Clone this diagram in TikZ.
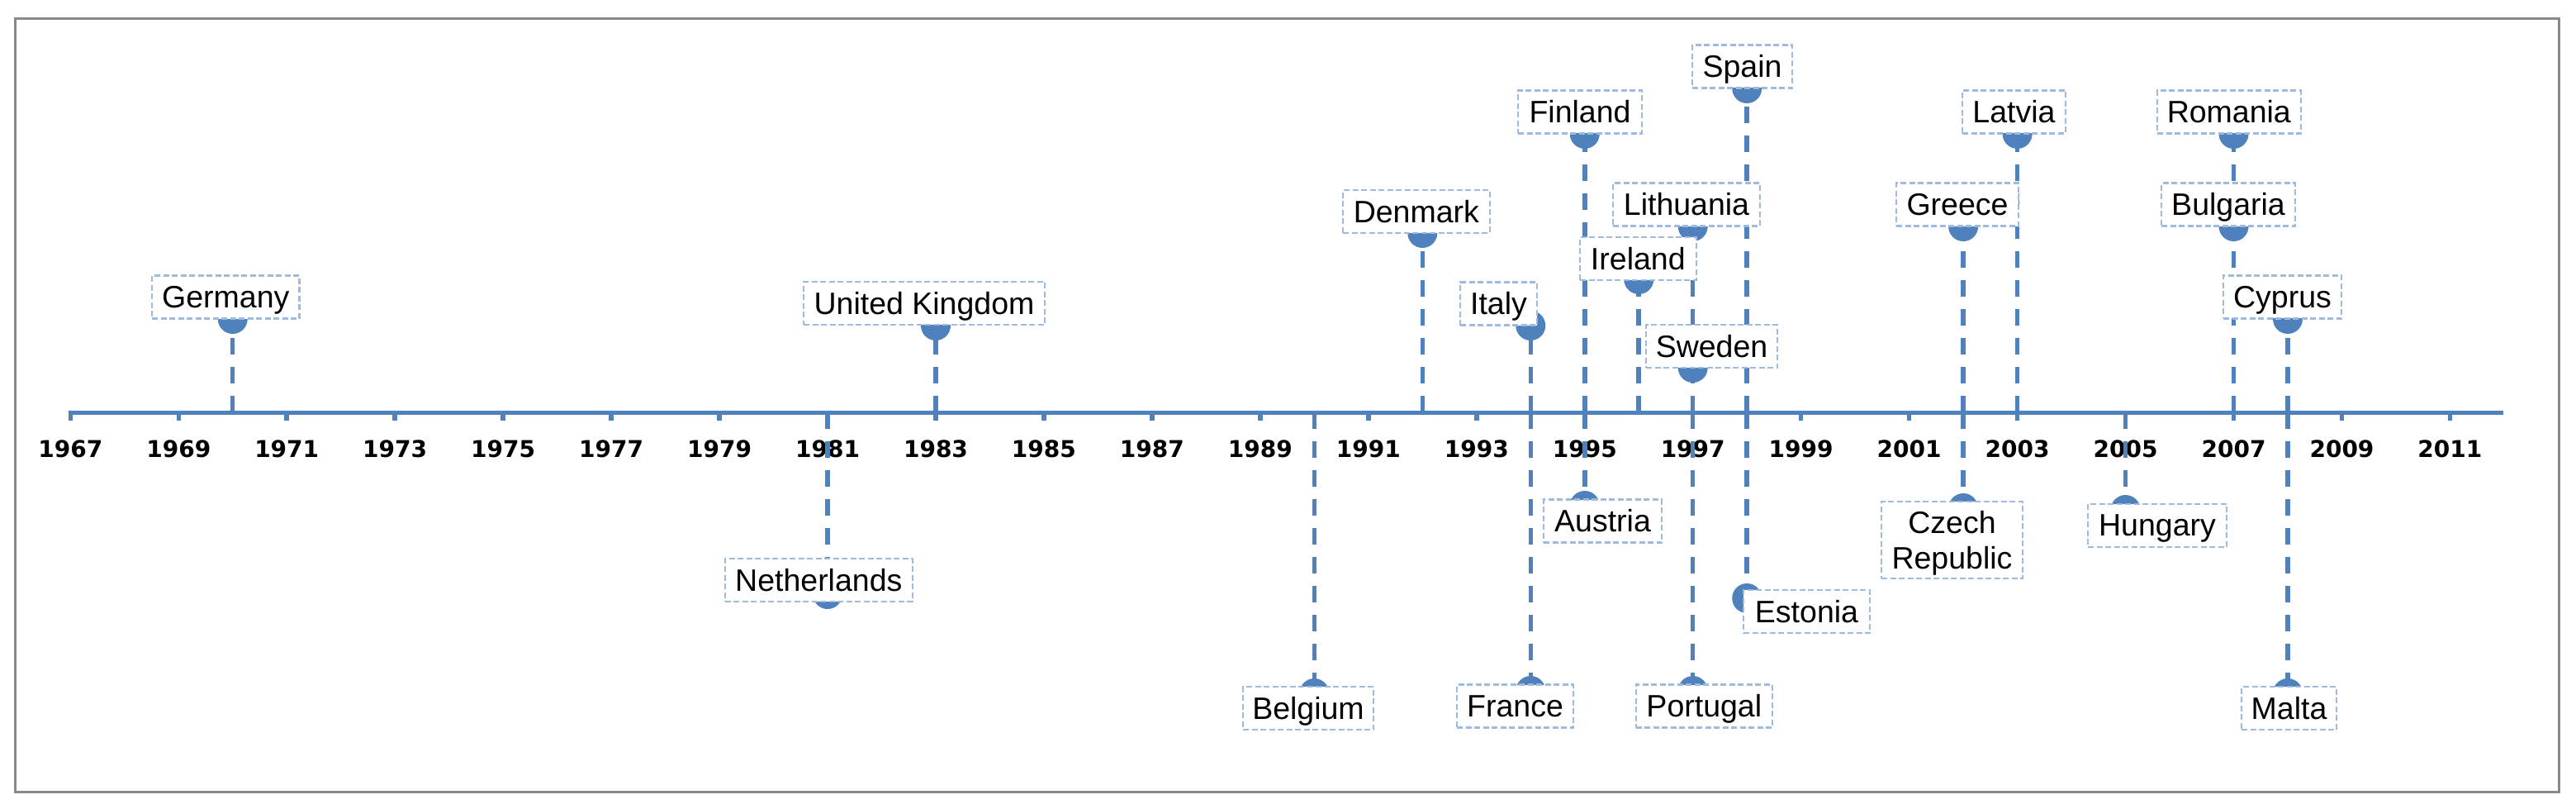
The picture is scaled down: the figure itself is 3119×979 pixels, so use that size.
\documentclass[tikz,border=0pt]{standalone}
\usepackage{fontspec}
\setmainfont{Liberation Sans}
\newfontfamily\yearfont{DejaVu Sans Bold}
\usetikzlibrary{backgrounds}
\pgfdeclarelayer{back}
\pgfsetlayers{back,main}
\definecolor{lineblue}{RGB}{79,129,189}
\definecolor{boxblue}{RGB}{158,186,220}
\definecolor{framegray}{RGB}{137,137,137}
\newcommand\yx[1]{85.3+(#1-1967)*65.48}
% #1 name, #2 year, #3 marker y, #4 box cx, #5 box cy, #6 box width, #7 style, #8 text
\newcommand\ctry[8]{%
  \node[#7, minimum width=#6pt] (#1) at (#4,#5) {#8};
  \begin{pgfonlayer}{back}
    \coordinate (#1-a) at ({\yx{#2}},499);
    \coordinate (#1-m) at ({\yx{#2}},#3);
    \draw[leader] (#1-a) -- (#1-m);
    \fill[lineblue] (#1-m) circle[radius=18pt];
  \end{pgfonlayer}}
\begin{document}
\begin{tikzpicture}[x=1pt,y=-1pt,
  boxbase/.style={draw=boxblue, line width=2.2pt, dash pattern=on 7pt off 3.5pt,
    fill=white, font=\fontsize{37.5}{42.2}\selectfont, inner xsep=1pt, inner ysep=0pt},
  lbl/.style={boxbase, text height=39pt, text depth=13pt},
  lbltwo/.style={boxbase, align=center},
  leader/.style={lineblue, line width=5.5pt, dash pattern=on 20pt off 15pt},
  axisline/.style={lineblue, line width=5pt},
  yearlbl/.style={font=\yearfont\fontsize{28}{30}\selectfont, inner sep=0pt}]
\useasboundingbox (0,0) rectangle (3119,979);
\draw[framegray, line width=3pt] (18,23) rectangle (3098,958);
\begin{pgfonlayer}{back}
  \foreach \y in {1967,1969,...,2011}{
    \node[yearlbl] (y\y) at ({\yx{\y}},543) {\y};
    \coordinate (t\y) at ({\yx{\y}},499);
    \coordinate (tb\y) at ({\yx{\y}},509);
    \draw[axisline, line width=5.5pt] (t\y) -- (tb\y);
  }
  \coordinate (axL) at (82.5,499);
  \coordinate (axR) at (3031,499);
  \draw[axisline] (axL) -- (axR);
\end{pgfonlayer}
% above the axis
\ctry{germany}{1970}{386}{273.3}{359.5}{178.5}{lbl}{Germany}
\ctry{uk}{1983}{394}{1119}{367}{292}{lbl}{United Kingdom}
\ctry{denmark}{1992}{282}{1714.8}{256.2}{177.6}{lbl}{Denmark}
\ctry{italy}{1994}{394}{1814.5}{367.5}{93}{lbl}{Italy}
\ctry{finland}{1995}{162}{1913}{135.5}{150}{lbl}{Finland}
\ctry{spain}{1998}{107}{2109.5}{80.5}{121}{lbl}{Spain}
\ctry{lithuania}{1997}{274}{2042}{247.5}{178}{lbl}{Lithuania}
\ctry{ireland}{1996}{338}{1983.3}{313}{140.6}{lbl}{Ireland}
\ctry{sweden}{1997}{445}{2072.5}{419}{159}{lbl}{Sweden}
\ctry{latvia}{2003}{162}{2438.5}{135.5}{125}{lbl}{Latvia}
\ctry{romania}{2007}{162}{2698.8}{135.5}{173.6}{lbl}{Romania}
\ctry{greece}{2002}{274}{2370}{247.5}{148}{lbl}{Greece}
\ctry{bulgaria}{2007}{274}{2698}{247.5}{162}{lbl}{Bulgaria}
\ctry{cyprus}{2008}{386}{2763.5}{359.4}{143}{lbl}{Cyprus}
% below the axis
\ctry{netherlands}{1981}{719}{991.3}{702}{226.7}{lbl}{Netherlands}
\ctry{belgium}{1990}{839}{1584}{857}{158}{lbl}{Belgium}
\ctry{france}{1994}{836}{1834.5}{854.5}{141}{lbl}{France}
\ctry{portugal}{1997}{836}{2063.3}{854.5}{165.4}{lbl}{Portugal}
\ctry{austria}{1995}{612}{1940.5}{630.5}{143}{lbl}{Austria}
\ctry{estonia}{1998}{724}{2187.5}{740}{153}{lbl}{Estonia}
\ctry{czech}{2002}{615}{2363.5}{653.5}{171}{lbltwo}{\rule{0pt}{39pt}Czech\\Republic\rule[-12pt]{0pt}{12pt}}
\ctry{hungary}{2005}{617}{2612}{635.8}{168}{lbl}{Hungary}
\ctry{malta}{2008}{839}{2771.5}{857}{115}{lbl}{Malta}
\end{tikzpicture}
\end{document}
